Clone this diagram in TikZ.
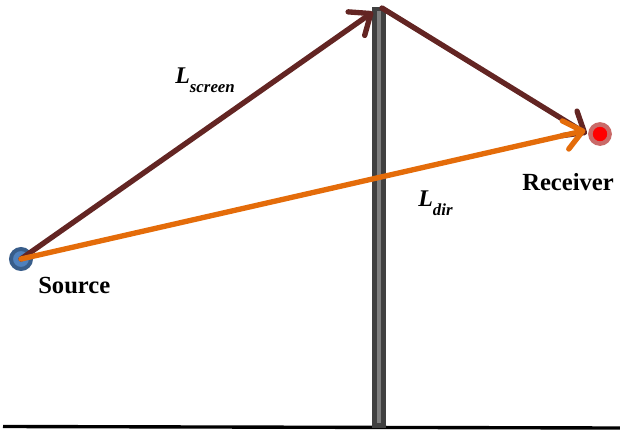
\documentclass[tikz,border=0pt]{standalone}
\usepackage{fontspec}
\setmainfont{Liberation Serif}
\usetikzlibrary{arrows.meta,positioning}
\definecolor{scbrown}{HTML}{632523}
\definecolor{scorange}{HTML}{E46C0A}
\definecolor{scblue}{HTML}{4F81BD}
\definecolor{scblueedge}{HTML}{385D8A}
\definecolor{scrose}{HTML}{C0504D}
\definecolor{scwall}{HTML}{404040}
\definecolor{scstripe}{HTML}{7F7F7F}
\newcommand{\pathlen}[2]{{\bfseries\itshape\fontsize{17}{20}\selectfont #1\raisebox{-7pt}{\fontsize{12}{13}\selectfont #2}}}
\tikzset{
  srcDot/.style={circle, draw=scblueedge, fill=scblue, line width=2.8pt, minimum size=0.5cm, inner sep=0pt},
  rcvDot/.style={circle, draw=scrose!85, fill=red, line width=3.2pt, minimum size=0.48cm, inner sep=0pt},
  rayArrow/.style={line width=3.8pt, line cap=round, -{Straight Barb[length=4.4mm, width=7.2mm, line cap=round, line join=round]}},
  placeLabel/.style={font=\bfseries\fontsize{17.5}{20}\selectfont, inner sep=0pt, anchor=base west},
  lenLabel/.style={inner sep=0pt, anchor=base west}
}

\begin{document}
\begin{tikzpicture}[x=0.025cm, y=-0.025cm]
  \useasboundingbox (0,0) rectangle (620,429);

  % ground and screen
  \draw[line width=2.4pt] (3,426.5) -- (620,428);
  \fill[scwall] (372,7) rectangle (386,428);
  \fill[scstripe] (377,11) rectangle (381,423);

  \node[srcDot] (src) at (21,259) {};
  \node[rcvDot] (rcv) at (600,134) {};
  \coordinate (hit) at (373,12);
  \coordinate (leave) at (382,8);

  \draw[rayArrow, scbrown] (src.center) -- (hit);
  \draw[rayArrow, scbrown] (leave) -- ([xshift=-1]rcv.west);
  \draw[rayArrow, scorange] (src.center) -- ([xshift=-2,yshift=2.5]rcv.west);

  \node[placeLabel] (srcLabel) at (38,293) {Source};
  \node[placeLabel] (rcvLabel) at (522,190) {Receiver};
  \node[lenLabel] (lScreen) at (175,83) {\pathlen{L}{screen}};
  \node[lenLabel] (lDir) at (418,206) {\pathlen{L}{dir}};
\end{tikzpicture}
\end{document}
